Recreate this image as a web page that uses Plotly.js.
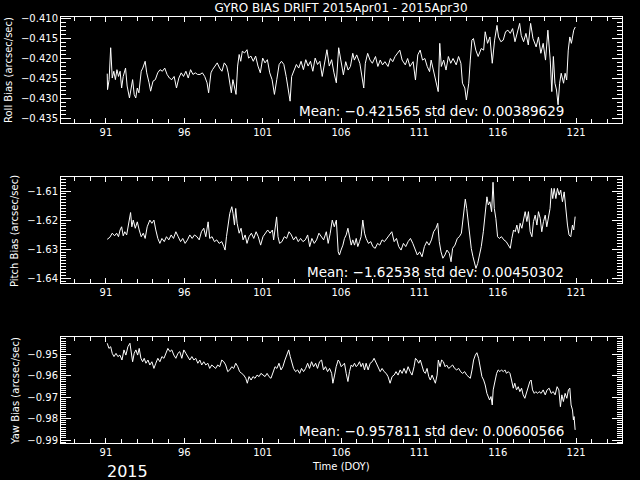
<!DOCTYPE html>
<html>
<head>
<meta charset="utf-8">
<script src="https://cdn.plot.ly/plotly-3.0.1.min.js"></script>
<style>html,body{margin:0;padding:0;background:#000;}#chart{width:640px;height:480px;}</style>
</head>
<body>
<div id="chart"></div>
<script>
// ---- Data ----
const rollDay = [91.08,91.1,91.2,91.3,91.4,91.5,91.6,91.7,91.8,91.9,92.0,92.1,92.25,92.35,92.5,92.6,92.7,92.8,92.9,93.0,93.1,93.25,93.35,93.5,93.6,93.75,93.85,94.0,94.15,94.3,94.45,94.6,94.75,94.9,95.05,95.2,95.35,95.5,95.65,95.8,95.95,96.1,96.25,96.4,96.55,96.7,96.85,97.0,97.15,97.3,97.45,97.55,97.7,97.8,97.95,98.1,98.25,98.4,98.55,98.7,98.8,98.9,99.0,99.1,99.2,99.3,99.4,99.5,99.6,99.7,99.85,100.0,100.1,100.25,100.4,100.55,100.7,100.85,101.0,101.15,101.3,101.45,101.6,101.75,101.9,102.05,102.2,102.35,102.5,102.65,102.75,102.85,103.0,103.15,103.3,103.45,103.6,103.75,103.9,104.05,104.2,104.35,104.5,104.65,104.8,104.95,105.1,105.25,105.4,105.55,105.7,105.85,
  106.0,106.15,106.3,106.45,106.6,106.75,106.85,107.0,107.2,107.3,107.45,107.55,107.7,107.85,108.0,108.2,108.35,108.5,108.65,108.8,109.0,109.15,109.3,109.45,109.6,109.75,109.9,110.1,110.25,110.4,110.6,110.75,110.9,111.05,111.2,111.35,111.5,111.65,111.75,111.9,112.2,112.3,112.4,112.55,112.7,112.85,113.0,113.15,113.35,113.5,113.65,113.75,113.9,114.0,114.15,114.25,114.35,114.45,114.6,114.75,114.95,115.1,115.2,115.35,115.5,115.65,115.8,115.95,116.05,116.2,116.35,116.5,116.65,116.8,116.95,117.1,117.25,117.4,117.5,117.65,117.8,117.95,118.1,118.25,118.45,118.6,118.75,118.9,119.05,119.2,119.35,119.45,119.55,119.65,119.75,119.85,119.95,120.05,120.2,120.3,120.4,120.5,120.6,120.7,120.85,120.95];
const rollVal = [-0.4237,-0.4277,-0.4252,-0.4172,-0.4248,-0.4231,-0.4252,-0.4227,-0.4244,-0.4231,-0.4273,-0.4244,-0.4223,-0.4268,-0.4298,-0.4277,-0.4252,-0.4289,-0.4298,-0.4273,-0.4285,-0.4231,-0.4223,-0.4206,-0.4235,-0.4260,-0.4281,-0.4256,-0.4252,-0.4235,-0.4227,-0.4231,-0.4223,-0.4239,-0.4248,-0.4252,-0.4244,-0.4273,-0.4248,-0.4235,-0.4244,-0.4231,-0.4248,-0.4227,-0.4239,-0.4235,-0.4239,-0.4239,-0.4235,-0.4244,-0.4260,-0.4285,-0.4235,-0.4227,-0.4218,-0.4210,-0.4223,-0.4231,-0.4210,-0.4218,-0.4235,-0.4260,-0.4285,-0.4252,-0.4268,-0.4289,-0.4218,-0.4189,-0.4206,-0.4181,-0.4185,-0.4177,-0.4198,-0.4193,-0.4206,-0.4193,-0.4218,-0.4235,-0.4198,-0.4210,-0.4202,-0.4235,-0.4252,-0.4289,-0.4252,-0.4214,-0.4206,-0.4214,-0.4244,-0.4277,-0.4306,-0.4244,-0.4231,-0.4214,-0.4223,-0.4206,-0.4227,-0.4202,-0.4218,-0.4206,-0.4231,-0.4198,-0.4214,-0.4206,-0.4244,-0.4214,-0.4177,-0.4218,-0.4202,-0.4235,-0.4260,-0.4172,
  -0.4203,-0.4240,-0.4207,-0.4228,-0.4219,-0.4186,-0.4203,-0.4190,-0.4211,-0.4240,-0.4273,-0.4211,-0.4186,-0.4203,-0.4211,-0.4194,-0.4219,-0.4203,-0.4215,-0.4207,-0.4219,-0.4199,-0.4207,-0.4194,-0.4186,-0.4178,-0.4203,-0.4215,-0.4199,-0.4219,-0.4207,-0.4253,-0.4190,-0.4178,-0.4203,-0.4199,-0.4219,-0.4232,-0.4203,-0.4228,-0.4282,-0.4161,-0.4219,-0.4203,-0.4228,-0.4194,-0.4211,-0.4199,-0.4215,-0.4194,-0.4211,-0.4261,-0.4273,-0.4303,-0.4261,-0.4203,-0.4153,-0.4149,-0.4178,-0.4194,-0.4174,-0.4178,-0.4132,-0.4161,-0.4145,-0.4211,-0.4153,-0.4116,-0.4145,-0.4157,-0.4153,-0.4132,-0.4128,-0.4136,-0.4124,-0.4157,-0.4132,-0.4111,-0.4141,-0.4157,-0.4136,-0.4165,-0.4111,-0.4149,-0.4170,-0.4145,-0.4186,-0.4161,-0.4203,-0.4128,-0.4203,-0.4282,-0.4194,-0.4261,-0.4278,-0.4315,-0.4261,-0.4236,-0.4261,-0.4236,-0.4253,-0.4178,-0.4145,-0.4161,-0.4128,-0.4120];

const pitchDay = [91.08,91.25,91.4,91.55,91.68,91.8,91.9,92.0,92.1,92.2,92.32,92.45,92.57,92.65,92.74,92.87,93.0,93.12,93.25,93.38,93.5,93.63,93.8,93.93,94.06,94.18,94.31,94.44,94.57,94.72,94.86,95.01,95.16,95.31,95.46,95.61,95.76,95.9,96.05,96.2,96.35,96.5,96.65,96.8,96.95,97.09,97.24,97.37,97.52,97.62,97.77,97.92,98.07,98.22,98.39,98.52,98.6,98.69,98.79,98.9,99.03,99.11,99.2,99.28,99.37,99.5,99.62,99.75,99.88,100.0,100.13,100.28,100.43,100.58,100.72,100.87,101.02,101.17,101.32,101.47,101.62,101.7,101.81,101.89,101.98,102.08,102.23,102.38,102.53,102.68,102.83,102.97,103.12,103.27,103.42,103.57,103.72,103.87,104.0,104.14,104.29,104.44,104.59,104.74,104.89,105.06,105.18,105.31,105.44,105.57,105.7,105.82,
  105.9,106.0,106.12,106.22,106.33,106.44,106.54,106.65,106.75,106.86,106.97,107.07,107.18,107.28,107.39,107.5,107.6,107.75,107.9,108.03,108.18,108.33,108.47,108.62,108.77,108.92,109.09,109.24,109.39,109.54,109.68,109.83,109.98,110.13,110.28,110.43,110.58,110.72,110.87,111.02,111.17,111.32,111.47,111.62,111.77,111.91,112.06,112.17,112.27,112.38,112.5,112.63,112.76,112.91,113.02,113.12,113.27,113.42,113.55,113.68,113.78,113.87,113.93,114.02,114.1,114.21,114.31,114.42,114.53,114.61,114.72,114.82,114.95,115.08,115.2,115.31,115.4,115.5,115.61,115.7,115.78,115.88,115.99,116.1,116.24,116.39,116.54,116.69,116.8,116.9,117.01,117.12,117.22,117.33,117.43,117.54,117.65,117.75,117.86,117.96,118.07,118.18,118.28,118.39,118.5,118.6,118.71,118.81,118.92,119.03,119.13,119.24,119.34,119.43,119.51,119.6,119.71,119.81,119.92,120.02,120.13,120.24,120.34,120.45,120.55,120.66,120.77,120.85,120.94];
const pitchVal = [-1.6266,-1.6259,-1.6245,-1.6254,-1.6245,-1.6257,-1.6234,-1.6223,-1.6254,-1.6240,-1.6251,-1.6211,-1.6174,-1.6223,-1.6200,-1.6228,-1.6206,-1.6234,-1.6257,-1.6245,-1.6263,-1.6223,-1.6200,-1.6211,-1.6200,-1.6234,-1.6263,-1.6280,-1.6263,-1.6274,-1.6257,-1.6268,-1.6251,-1.6263,-1.6240,-1.6257,-1.6274,-1.6263,-1.6280,-1.6268,-1.6251,-1.6263,-1.6251,-1.6257,-1.6268,-1.6240,-1.6228,-1.6257,-1.6206,-1.6263,-1.6257,-1.6274,-1.6268,-1.6280,-1.6274,-1.6291,-1.6303,-1.6257,-1.6211,-1.6177,-1.6154,-1.6177,-1.6217,-1.6160,-1.6211,-1.6245,-1.6228,-1.6268,-1.6251,-1.6280,-1.6257,-1.6245,-1.6263,-1.6240,-1.6257,-1.6286,-1.6257,-1.6245,-1.6234,-1.6245,-1.6234,-1.6268,-1.6211,-1.6189,-1.6257,-1.6280,-1.6274,-1.6257,-1.6263,-1.6240,-1.6251,-1.6268,-1.6257,-1.6274,-1.6263,-1.6274,-1.6268,-1.6251,-1.6291,-1.6263,-1.6280,-1.6268,-1.6245,-1.6257,-1.6268,-1.6240,-1.6280,-1.6245,-1.6200,-1.6223,-1.6200,-1.6309,
  -1.6320,-1.6303,-1.6286,-1.6263,-1.6251,-1.6228,-1.6263,-1.6286,-1.6268,-1.6286,-1.6263,-1.6291,-1.6274,-1.6257,-1.6200,-1.6245,-1.6263,-1.6280,-1.6274,-1.6291,-1.6297,-1.6280,-1.6286,-1.6268,-1.6274,-1.6263,-1.6251,-1.6240,-1.6274,-1.6263,-1.6291,-1.6303,-1.6280,-1.6291,-1.6274,-1.6263,-1.6280,-1.6297,-1.6320,-1.6309,-1.6326,-1.6291,-1.6274,-1.6286,-1.6268,-1.6240,-1.6228,-1.6211,-1.6274,-1.6309,-1.6331,-1.6320,-1.6303,-1.6314,-1.6343,-1.6297,-1.6286,-1.6263,-1.6257,-1.6245,-1.6194,-1.6148,-1.6128,-1.6160,-1.6205,-1.6251,-1.6297,-1.6326,-1.6349,-1.6366,-1.6349,-1.6326,-1.6291,-1.6240,-1.6183,-1.6120,-1.6148,-1.6137,-1.6171,-1.6070,-1.6160,-1.6194,-1.6257,-1.6263,-1.6257,-1.6268,-1.6274,-1.6286,-1.6297,-1.6263,-1.6234,-1.6240,-1.6217,-1.6245,-1.6211,-1.6228,-1.6200,-1.6171,-1.6205,-1.6171,-1.6240,-1.6257,-1.6205,-1.6183,-1.6217,-1.6171,-1.6194,-1.6240,-1.6205,-1.6183,-1.6223,-1.6194,-1.6160,-1.6091,-1.6126,-1.6091,-1.6126,-1.6091,-1.6114,-1.6097,-1.6137,-1.6103,-1.6160,-1.6217,-1.6251,-1.6257,-1.6217,-1.6234,-1.6188];

const yawDay = [91.08,91.19,91.3,91.4,91.51,91.64,91.76,91.89,92.02,92.15,92.27,92.4,92.53,92.61,92.7,92.8,92.91,93.02,93.12,93.23,93.34,93.44,93.55,93.68,93.8,93.93,94.06,94.18,94.31,94.44,94.57,94.7,94.82,94.95,95.08,95.2,95.33,95.46,95.59,95.71,95.84,95.97,96.1,96.22,96.35,96.48,96.61,96.73,96.86,96.99,97.11,97.24,97.37,97.5,97.62,97.75,97.88,98.0,98.13,98.26,98.39,98.52,98.64,98.77,98.9,99.03,99.15,99.28,99.41,99.53,99.66,99.79,99.92,100.02,100.13,100.26,100.38,100.51,100.64,100.77,100.89,101.02,101.15,101.28,101.4,101.53,101.66,101.79,101.91,102.04,102.17,102.29,102.42,102.55,102.66,102.76,102.87,102.97,103.1,103.23,103.36,103.48,103.61,103.74,103.87,103.99,104.12,104.25,104.38,104.5,104.63,104.76,104.88,105.01,105.14,105.27,105.4,105.48,105.59,105.69,105.82,
  105.9,106.01,106.12,106.22,106.33,106.44,106.54,106.65,106.75,106.86,106.97,107.07,107.18,107.28,107.39,107.5,107.6,107.73,107.86,107.99,108.11,108.24,108.37,108.5,108.62,108.75,108.88,109.0,109.13,109.26,109.39,109.51,109.64,109.77,109.9,110.02,110.15,110.28,110.41,110.53,110.66,110.75,110.85,110.96,111.06,111.17,111.28,111.38,111.49,111.6,111.7,111.81,111.91,112.02,112.13,112.21,112.32,112.42,112.53,112.64,112.74,112.87,113.0,113.12,113.25,113.38,113.51,113.63,113.76,113.89,114.02,114.14,114.25,114.36,114.46,114.57,114.67,114.78,114.89,114.99,115.1,115.2,115.31,115.4,115.48,115.57,115.65,115.71,115.82,115.93,116.03,116.14,116.24,116.35,116.46,116.56,116.67,116.78,116.88,116.99,117.09,117.2,117.31,117.41,117.52,117.62,117.73,117.84,117.94,118.05,118.13,118.22,118.33,118.43,118.54,118.64,118.77,118.9,119.03,119.15,119.28,119.41,119.54,119.66,119.79,119.9,120.0,120.09,120.19,120.3,120.41,120.51,120.6,120.68,120.77,120.83,120.87,120.94];
const yawVal = [-0.9450,-0.9474,-0.9466,-0.9497,-0.9512,-0.9497,-0.9512,-0.9505,-0.9528,-0.9481,-0.9505,-0.9466,-0.9450,-0.9489,-0.9536,-0.9497,-0.9481,-0.9505,-0.9474,-0.9520,-0.9536,-0.9520,-0.9543,-0.9528,-0.9551,-0.9536,-0.9567,-0.9543,-0.9520,-0.9536,-0.9512,-0.9520,-0.9497,-0.9474,-0.9489,-0.9481,-0.9505,-0.9520,-0.9497,-0.9489,-0.9520,-0.9481,-0.9497,-0.9512,-0.9528,-0.9512,-0.9528,-0.9520,-0.9543,-0.9528,-0.9551,-0.9536,-0.9551,-0.9543,-0.9567,-0.9551,-0.9559,-0.9567,-0.9551,-0.9559,-0.9528,-0.9536,-0.9551,-0.9582,-0.9574,-0.9559,-0.9567,-0.9543,-0.9559,-0.9582,-0.9590,-0.9598,-0.9613,-0.9636,-0.9605,-0.9621,-0.9605,-0.9613,-0.9598,-0.9605,-0.9590,-0.9598,-0.9605,-0.9590,-0.9605,-0.9613,-0.9590,-0.9559,-0.9567,-0.9543,-0.9574,-0.9559,-0.9528,-0.9505,-0.9481,-0.9512,-0.9536,-0.9567,-0.9582,-0.9574,-0.9590,-0.9567,-0.9582,-0.9567,-0.9543,-0.9567,-0.9536,-0.9559,-0.9543,-0.9567,-0.9536,-0.9528,-0.9574,-0.9559,-0.9582,-0.9567,-0.9590,-0.9636,-0.9598,-0.9559,-0.9528,
  -0.9536,-0.9559,-0.9551,-0.9543,-0.9590,-0.9628,-0.9582,-0.9551,-0.9559,-0.9543,-0.9559,-0.9551,-0.9536,-0.9559,-0.9543,-0.9574,-0.9543,-0.9574,-0.9543,-0.9536,-0.9520,-0.9543,-0.9567,-0.9582,-0.9567,-0.9582,-0.9590,-0.9605,-0.9636,-0.9605,-0.9598,-0.9582,-0.9598,-0.9574,-0.9590,-0.9567,-0.9590,-0.9559,-0.9582,-0.9598,-0.9559,-0.9520,-0.9528,-0.9543,-0.9528,-0.9559,-0.9582,-0.9590,-0.9567,-0.9605,-0.9621,-0.9598,-0.9621,-0.9636,-0.9598,-0.9528,-0.9559,-0.9528,-0.9536,-0.9559,-0.9551,-0.9567,-0.9559,-0.9551,-0.9567,-0.9574,-0.9567,-0.9582,-0.9590,-0.9582,-0.9598,-0.9605,-0.9613,-0.9574,-0.9528,-0.9505,-0.9494,-0.9520,-0.9559,-0.9605,-0.9621,-0.9644,-0.9683,-0.9706,-0.9714,-0.9698,-0.9737,-0.9667,-0.9628,-0.9590,-0.9574,-0.9582,-0.9574,-0.9582,-0.9574,-0.9590,-0.9582,-0.9590,-0.9621,-0.9659,-0.9636,-0.9667,-0.9652,-0.9675,-0.9659,-0.9690,-0.9706,-0.9675,-0.9652,-0.9628,-0.9621,-0.9667,-0.9683,-0.9675,-0.9683,-0.9675,-0.9683,-0.9667,-0.9690,-0.9667,-0.9659,-0.9683,-0.9675,-0.9690,-0.9652,-0.9667,-0.9745,-0.9690,-0.9721,-0.9683,-0.9706,-0.9667,-0.9659,-0.9737,-0.9760,-0.9807,-0.9791,-0.9853];

const titleText = "GYRO BIAS DRIFT 2015Apr01 - 2015Apr30";
const panelTitles = ["Roll Bias (arcsec/sec)", "Pitch Bias (arcsec/sec)", "Yaw Bias (arcsec/sec)"];
const statTexts = ["Mean: \u22120.421565 std dev: 0.00389629",
                   "Mean: \u22121.62538 std dev: 0.00450302",
                   "Mean: \u22120.957811 std dev: 0.00600566"];
const xTitle = "Time (DOY)";
const yearText = "2015";

// ---- Layout ----
const FONT = "DejaVu Sans, sans-serif";
const W = 640, H = 480;
const xDom = [61 / W, 622 / W];
const yDoms = [[1 - 123 / H, 1 - 17 / H], [1 - 283.3 / H, 1 - 177.3 / H], [1 - 443.3 / H, 1 - 337.3 / H]];
const yRanges = [[-0.43607, -0.4095], [-1.64172, -1.60529], [-0.99153, -0.94223]];
const yDtick = [0.005, 0.01, 0.01];
const yTick0 = [-0.410, -1.61, -0.95];
const yFmt = [".3f", ".2f", ".2f"];

function xAxis(anchor) {
  return {
    domain: xDom, range: [88.13, 123.93], anchor: anchor,
    tickmode: "linear", tick0: 91, dtick: 5,
    ticks: "inside", ticklen: 5, tickcolor: "#fff", tickwidth: 1,
    minor: {dtick: 1, tick0: 91, ticks: "inside", ticklen: 4, tickcolor: "#fff", showgrid: false},
    showline: true, linecolor: "#fff", linewidth: 1, mirror: "ticks",
    showgrid: false, zeroline: false,
    tickfont: {family: FONT, size: 10, color: "#fff"},
    fixedrange: true
  };
}
function yAxis(i, anchor) {
  return {
    domain: yDoms[i], range: yRanges[i], anchor: anchor,
    tickmode: "linear", tick0: yTick0[i], dtick: yDtick[i], tickformat: yFmt[i],
    ticks: "inside", ticklen: 10, tickcolor: "#fff", tickwidth: 1,
    minor: {dtick: 0.001, ticks: "inside", ticklen: 5, tickcolor: "#fff", showgrid: false},
    showline: true, linecolor: "#fff", linewidth: 1, mirror: "ticks",
    showgrid: false, zeroline: false,
    tickfont: {family: FONT, size: 10, color: "#fff"},
    fixedrange: true
  };
}

const lineStyle = {color: "#fff", width: 1};
const traces = [
  {x: rollDay, y: rollVal, xaxis: "x", yaxis: "y", mode: "lines", line: lineStyle, hoverinfo: "skip"},
  {x: pitchDay, y: pitchVal, xaxis: "x2", yaxis: "y2", mode: "lines", line: lineStyle, hoverinfo: "skip"},
  {x: yawDay, y: yawVal, xaxis: "x3", yaxis: "y3", mode: "lines", line: lineStyle, hoverinfo: "skip"}
];

const titleX = [8, 15, 15];
const titleY = [70, 231, 391];
const statY = [111, 271.5, 431];
const annotations = [];
for (let i = 0; i < 3; i++) {
  annotations.push({xref: "paper", yref: "paper", x: titleX[i] / W, y: 1 - titleY[i] / H,
    text: panelTitles[i], textangle: -90, showarrow: false, xanchor: "center", yanchor: "middle",
    font: {family: FONT, size: 10, color: "#fff"}});
  annotations.push({xref: "paper", yref: "paper", x: 566 / W, y: 1 - statY[i] / H,
    text: statTexts[i], showarrow: false, xanchor: "right", yanchor: "middle",
    font: {family: FONT, size: 13.5, color: "#fff"}});
}
annotations.push({xref: "paper", yref: "paper", x: 341 / W, y: 1 - 466 / H, text: xTitle,
  showarrow: false, xanchor: "center", yanchor: "middle", font: {family: FONT, size: 10, color: "#fff"}});
annotations.push({xref: "paper", yref: "paper", x: 127 / W, y: 1 - 471 / H, text: yearText,
  showarrow: false, xanchor: "center", yanchor: "middle", font: {family: FONT, size: 16, color: "#fff"}});

const layout = {
  width: W, height: H,
  margin: {l: 0, r: 0, t: 0, b: 0},
  paper_bgcolor: "#000", plot_bgcolor: "#000",
  showlegend: false,
  title: {text: titleText, x: 341 / W, xanchor: "center", y: 1 - 8 / H, yanchor: "middle",
          font: {family: FONT, size: 12, color: "#fff"}},
  xaxis: xAxis("y"), yaxis: yAxis(0, "x"),
  xaxis2: xAxis("y2"), yaxis2: yAxis(1, "x2"),
  xaxis3: xAxis("y3"), yaxis3: yAxis(2, "x3"),
  annotations: annotations
};

Plotly.newPlot("chart", traces, layout, {displayModeBar: false, staticPlot: true});
</script>
</body>
</html>
